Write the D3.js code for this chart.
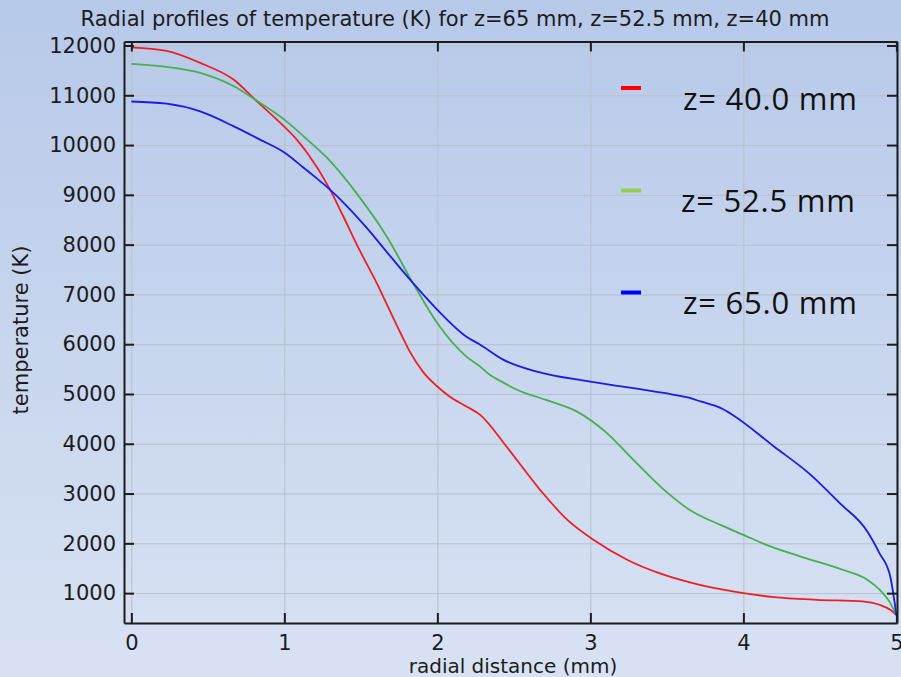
<!DOCTYPE html>
<html>
<head>
<meta charset="utf-8">
<script src="https://cdn.jsdelivr.net/npm/d3@7"></script>
<style>
  html, body { margin: 0; padding: 0; background: #c8d6ee; }
  svg { display: block; }
</style>
</head>
<body>
<div id="graph"></div>
<script>
  // radial distance (mm) / temperature (K)
  const rRed = [0, 0.23, 0.45, 0.67, 0.81, 0.93, 1.1, 1.15, 1.3, 1.38, 1.49, 1.6, 1.67, 1.76, 1.82, 1.91, 2.0, 2.08, 2.19, 2.28, 2.45, 2.67, 2.85, 3.02, 3.24, 3.45, 3.67, 3.85, 4.0, 4.2, 4.48, 4.78, 4.89, 4.96, 5.0];
  const tRed = [11960, 11890, 11650, 11310, 10910, 10570, 10040, 9840, 9100, 8600, 7900, 7250, 6800, 6220, 5850, 5430, 5150, 4950, 4750, 4580, 3950, 3080, 2470, 2070, 1670, 1400, 1200, 1080, 1000, 920, 866, 833, 766, 665, 560];

  const rGreen = [0, 0.23, 0.45, 0.67, 0.81, 1.0, 1.15, 1.28, 1.47, 1.67, 1.84, 2.0, 2.19, 2.28, 2.34, 2.41, 2.52, 2.71, 2.91, 3.11, 3.28, 3.48, 3.65, 3.85, 4.0, 4.15, 4.37, 4.65, 4.81, 4.89, 4.96, 5.0];
  const tGreen = [11630, 11570, 11450, 11180, 10910, 10510, 10110, 9740, 9040, 8160, 7230, 6420, 5750, 5550, 5390, 5265, 5085, 4880, 4650, 4210, 3680, 3080, 2670, 2370, 2170, 1970, 1740, 1470, 1270, 1070, 800, 560];

  const rBlue = [0, 0.23, 0.45, 0.67, 0.84, 1.0, 1.12, 1.2, 1.3, 1.41, 1.54, 1.67, 1.84, 2.0, 2.19, 2.28, 2.43, 2.65, 3.0, 3.48, 3.65, 3.72, 3.85, 3.93, 4.2, 4.44, 4.63, 4.81, 4.89, 4.96, 5.0];
  const tBlue = [10875, 10830, 10675, 10375, 10110, 9850, 9560, 9360, 9100, 8770, 8330, 7850, 7230, 6690, 6150, 5990, 5690, 5450, 5250, 5020, 4920, 4850, 4720, 4580, 3945, 3376, 2807, 2240, 1800, 1333, 560];

  const seriesNames = ['z= 40.0 mm', 'z= 52.5 mm', 'z= 65.0 mm'];
  const xTicks = [0, 1, 2, 3, 4, 5];
  const yTicks = [1000, 2000, 3000, 4000, 5000, 6000, 7000, 8000, 9000, 10000, 11000, 12000];

  const width = 901, height = 677;
  const plotLeft = 124, plotRight = 897, plotTop = 41.5, plotBottom = 623;

  const series = [
    {name: seriesNames[0], r: rRed, t: tRed, color: '#ec2024', key: '#ff0000'},
    {name: seriesNames[1], r: rGreen, t: tGreen, color: '#45b04f', key: '#92d050'},
    {name: seriesNames[2], r: rBlue, t: tBlue, color: '#1a1aee', key: '#0000ff'}
  ];

  const x = d3.scaleLinear().domain([-0.048, 5.004]).range([plotLeft, plotRight]);
  const y = d3.scaleLinear().domain([400, 12080]).range([plotBottom, plotTop]);

  const svg = d3.select('#graph').append('svg')
      .attr('width', width)
      .attr('height', height);

  const grad = svg.append('defs').append('linearGradient')
      .attr('id', 'bg').attr('x1', 0).attr('y1', 0).attr('x2', 0).attr('y2', 1);
  grad.append('stop').attr('offset', '0%').attr('stop-color', '#b7c9e9');
  grad.append('stop').attr('offset', '100%').attr('stop-color', '#d8e2f3');

  svg.append('rect').attr('width', width).attr('height', height).attr('fill', 'url(#bg)');

  // grid
  svg.append('g')
      .attr('transform', `translate(0,${plotBottom})`)
      .call(d3.axisBottom(x).tickValues(xTicks).tickSize(-(plotBottom - plotTop)).tickFormat(''))
      .call(g => g.select('.domain').remove())
      .call(g => g.selectAll('line').attr('stroke', '#b8bfcc').attr('stroke-width', 1));
  svg.append('g')
      .attr('transform', `translate(${plotLeft},0)`)
      .call(d3.axisLeft(y).tickValues(yTicks).tickSize(-(plotRight - plotLeft)).tickFormat(''))
      .call(g => g.select('.domain').remove())
      .call(g => g.selectAll('line').attr('stroke', '#b8bfcc').attr('stroke-width', 1));

  // curves
  const line = d3.line()
      .x(d => x(d[0]))
      .y(d => y(d[1]))
      .curve(d3.curveMonotoneX);

  svg.append('g')
    .selectAll('path')
    .data(series)
    .join('path')
      .attr('fill', 'none')
      .attr('stroke', d => d.color)
      .attr('stroke-width', 1.8)
      .attr('d', d => line(d.r.map((r, i) => [r, d.t[i]])));

  // frame with inward ticks
  const styleAxis = g => {
    g.selectAll('.domain').attr('stroke', '#1c1c1c').attr('stroke-width', 2);
    g.selectAll('.tick line').attr('stroke', '#1c1c1c').attr('stroke-width', 2);
    g.selectAll('text')
      .attr('font-family', 'DejaVu Sans')
      .attr('font-size', 21)
      .attr('fill', '#1c1c1c');
  };

  svg.append('g')
      .attr('transform', `translate(0,${plotBottom})`)
      .call(d3.axisBottom(x).tickValues(xTicks).tickSizeInner(-10).tickSizeOuter(0).tickPadding(12).tickFormat(d3.format('d')))
      .call(styleAxis);
  svg.append('g')
      .attr('transform', `translate(0,${plotTop})`)
      .call(d3.axisTop(x).tickValues(xTicks).tickSizeInner(-10).tickSizeOuter(0).tickFormat(''))
      .call(styleAxis);
  svg.append('g')
      .attr('transform', `translate(${plotLeft},0)`)
      .call(d3.axisLeft(y).tickValues(yTicks).tickSizeInner(-10).tickSizeOuter(0).tickPadding(8).tickFormat(d3.format('d')))
      .call(styleAxis);
  svg.append('g')
      .attr('transform', `translate(${plotRight},0)`)
      .call(d3.axisRight(y).tickValues(yTicks).tickSizeInner(-10).tickSizeOuter(0).tickFormat(''))
      .call(styleAxis);

  // titles
  svg.append('text')
      .attr('x', 455).attr('y', 25.5)
      .attr('text-anchor', 'middle')
      .attr('font-family', 'DejaVu Sans')
      .attr('font-size', 21)
      .attr('fill', '#1c1c1c')
      .text('Radial profiles of temperature (K) for z=65 mm, z=52.5 mm, z=40 mm');

  svg.append('text')
      .attr('x', 513).attr('y', 673)
      .attr('text-anchor', 'middle')
      .attr('font-family', 'DejaVu Sans')
      .attr('font-size', 20)
      .attr('fill', '#1c1c1c')
      .text('radial distance (mm)');

  svg.append('text')
      .attr('transform', `translate(28,${330}) rotate(-90)`)
      .attr('text-anchor', 'middle')
      .attr('font-family', 'DejaVu Sans')
      .attr('font-size', 21)
      .attr('fill', '#1c1c1c')
      .text('temperature (K)');

  // legend
  const legendY = [88, 190.5, 292.5];
  const legend = svg.append('g')
    .selectAll('g')
    .data(series)
    .join('g');
  legend.append('line')
      .attr('x1', 621).attr('x2', 641)
      .attr('y1', (d, i) => legendY[i]).attr('y2', (d, i) => legendY[i])
      .attr('stroke', d => d.key)
      .attr('stroke-width', 4);
  legend.append('text')
      .attr('x', (d, i) => i === 1 ? 681 : 683)
      .attr('y', (d, i) => legendY[i] + 21.5)
      .attr('font-family', 'Open Sans')
      .attr('font-size', 31)
      .attr('fill', '#111')
      .attr('textLength', 174)
      .attr('lengthAdjust', 'spacing')
      .text(d => d.name);
</script>
</body>
</html>
